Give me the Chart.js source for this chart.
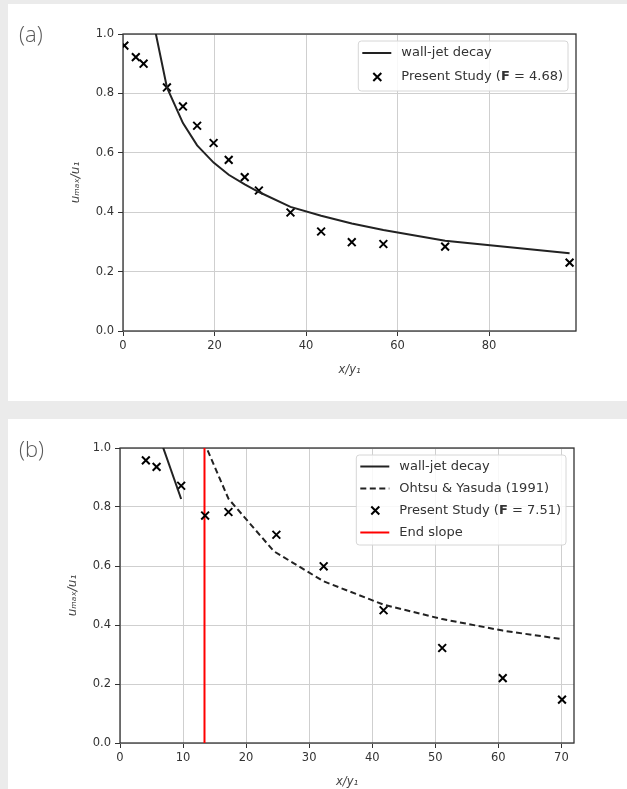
<!DOCTYPE html>
<html>
<head>
<meta charset="utf-8">
<script src="https://cdn.jsdelivr.net/npm/chart.js@4"></script>
<style>
  body { margin: 0; background: #ebebeb; width: 627px; height: 789px; position: relative; overflow: hidden; }
  .panel { position: absolute; left: 8px; width: 619px; background: #fff; }
  #pa { top: 4px; height: 397px; }
  #pb { top: 419px; height: 370px; }
  .tag { position: absolute; left: 11px; top: 14px; font-family: "Open Sans"; font-weight: 300; font-size: 22px; color: #5a5a5a; transform: translateZ(0); }
  canvas { position: absolute; left: 0; top: 0; }
</style>
</head>
<body>
<div class="panel" id="pa"><div class="tag">(a)</div><canvas id="chart_a" width="619" height="397"></canvas></div>
<div class="panel" id="pb"><div class="tag">(b)</div><canvas id="chart_b" width="619" height="370"></canvas></div>
<script>
// (a) F = 4.68
const xA = [0.3, 2.8, 4.5, 9.6, 13.1, 16.2, 19.8, 23.1, 26.6, 29.7, 36.6, 43.3, 50.0, 56.9, 70.4, 97.6];
const yA = [0.961, 0.922, 0.900, 0.820, 0.756, 0.691, 0.633, 0.576, 0.518, 0.473, 0.399, 0.335, 0.299, 0.293, 0.284, 0.230];
const wallXA = [4.5, 9.6, 13.1, 16.2, 19.8, 23.1, 26.6, 29.7, 36.6, 43.3, 50.0, 56.9, 70.4, 97.6];
const wallYA = [1.20, 0.820, 0.700, 0.625, 0.567, 0.526, 0.494, 0.468, 0.418, 0.388, 0.362, 0.340, 0.304, 0.262];

// (b) F = 7.51
const xB = [4.1, 5.8, 9.7, 13.5, 17.2, 24.8, 32.3, 41.8, 51.1, 60.7, 70.1];
const yB = [0.958, 0.936, 0.872, 0.771, 0.783, 0.706, 0.599, 0.450, 0.322, 0.220, 0.147];
const wallXB = [5.8, 9.7];
const wallYB = [1.065, 0.827];
const ohtsuX = [13.9, 17.2, 24.4, 32.3, 41.8, 51.1, 60.7, 70.1];
const ohtsuY = [0.992, 0.828, 0.650, 0.548, 0.469, 0.420, 0.381, 0.352];
const endSlopeX = 13.4;

const yTicks = [0, 0.2, 0.4, 0.6, 0.8, 1.0];

function pts(xs, ys) {
  return xs.map((x, i) => ({ x: x, y: ys[i] }));
}

// cadre noir autour de la zone de tracé
const frame = {
  id: "frame",
  beforeDatasetsDraw(chart) {
    const { ctx, chartArea: a } = chart;
    ctx.save();
    ctx.strokeStyle = "#333";
    ctx.lineWidth = 1.3;
    ctx.strokeRect(a.left, a.top, a.right - a.left, a.bottom - a.top);
    ctx.restore();
  },
};

// légende dessinée à la main (le F en gras)
const boxLegend = {
  id: "boxLegend",
  afterDraw(chart, args, opts) {
    const { ctx, chartArea: a } = chart;
    const font = opts.size + 'px "DejaVu Sans"';
    const bold = "bold " + font;
    ctx.save();
    let tw = 0;
    opts.items.forEach((it) => {
      let w = 0;
      it.parts.forEach((p) => {
        ctx.font = p.b ? bold : font;
        w += ctx.measureText(p.t).width;
      });
      tw = Math.max(tw, w);
    });
    const w = 43 + tw + 5;
    const h = opts.items.length * opts.rowH + 2;
    const x = a.right - 8 - w;
    const y = a.top + 7;
    ctx.beginPath();
    ctx.roundRect(x, y, w, h, 3);
    ctx.fillStyle = "rgba(255,255,255,0.85)";
    ctx.fill();
    ctx.strokeStyle = "#d6d6d6";
    ctx.lineWidth = 1;
    ctx.stroke();
    opts.items.forEach((it, i) => {
      const cy = y + opts.first + i * opts.rowH;
      ctx.setLineDash([]);
      if (it.kind === "marker") {
        ctx.strokeStyle = "#000";
        ctx.lineWidth = 2;
        ctx.beginPath();
        ctx.moveTo(x + 15, cy - 4);
        ctx.lineTo(x + 23, cy + 4);
        ctx.moveTo(x + 15, cy + 4);
        ctx.lineTo(x + 23, cy - 4);
        ctx.stroke();
      } else {
        ctx.strokeStyle = it.color;
        ctx.lineWidth = 2;
        if (it.kind === "dash") ctx.setLineDash([6, 3.5]);
        ctx.beginPath();
        ctx.moveTo(x + 4, cy);
        ctx.lineTo(x + 33, cy);
        ctx.stroke();
      }
      ctx.setLineDash([]);
      ctx.fillStyle = "#333";
      ctx.textBaseline = "middle";
      let tx = x + 43;
      it.parts.forEach((p) => {
        ctx.font = p.b ? bold : font;
        ctx.fillText(p.t, tx, cy);
        tx += ctx.measureText(p.t).width;
      });
    });
    ctx.restore();
  },
};

function dessinerGrafico(el, datasets, xMax, xStep, pad, legend) {
  return new Chart(el, {
    type: "scatter",
    data: { datasets: datasets },
    options: {
      responsive: false,
      animation: false,
      layout: { padding: pad },
      scales: {
        x: {
          type: "linear",
          min: 0,
          max: xMax,
          border: { display: false },
          grid: { color: "#cfcfcf", lineWidth: 1, tickLength: 5, tickColor: "#333" },
          ticks: { stepSize: xStep, includeBounds: false, padding: 3, color: "#333", font: { size: 11.5 } },
          title: { display: true, text: "x/y₁", color: "#444", font: { size: 11.5, style: "italic" }, padding: { top: 4, bottom: 0 } },
          afterFit: (s) => { s.height = 46; },
        },
        y: {
          type: "linear",
          min: 0,
          max: 1,
          border: { display: false },
          afterBuildTicks: (s) => { s.ticks = yTicks.map((v) => ({ value: v })); },
          grid: { color: "#cfcfcf", lineWidth: 1, tickLength: 5, tickColor: "#333" },
          ticks: { padding: 4, color: "#333", font: { size: 11.5 }, callback: (v) => v.toFixed(1) },
          title: { display: true, text: "uₘₐₓ/u₁", color: "#444", font: { size: 12, style: "italic" }, padding: { top: 0, bottom: 6 } },
          afterFit: (s) => { s.width = 54; },
        },
      },
      plugins: {
        legend: { display: false },
        tooltip: { enabled: false },
        boxLegend: legend,
      },
    },
    plugins: [frame, boxLegend],
  });
}

Chart.defaults.font.family = '"DejaVu Sans"';

const lineStyle = { showLine: true, pointRadius: 0, borderWidth: 2, tension: 0, clip: 0 };
const markStyle = { pointStyle: "crossRot", pointRadius: 5.5, borderWidth: 2, borderColor: "#000", backgroundColor: "#000", clip: 0 };

dessinerGrafico(
  document.getElementById("chart_a"),
  [
    { ...lineStyle, label: "wall-jet decay", data: pts(wallXA, wallYA), borderColor: "#222" },
    { ...markStyle, label: "Present Study (F = 4.68)", data: pts(xA, yA) },
  ],
  99, 20,
  { left: 61, top: 30, right: 51, bottom: 24 },
  {
    size: 13, rowH: 24, first: 12,
    items: [
      { kind: "line", color: "#222", parts: [{ t: "wall-jet decay" }] },
      { kind: "marker", parts: [{ t: "Present Study (" }, { t: "F", b: true }, { t: " = 4.68)" }] },
    ],
  }
);

dessinerGrafico(
  document.getElementById("chart_b"),
  [
    { ...lineStyle, label: "wall-jet decay", data: pts(wallXB, wallYB), borderColor: "#222" },
    { ...lineStyle, label: "Ohtsu & Yasuda (1991)", data: pts(ohtsuX, ohtsuY), borderColor: "#222", borderDash: [6, 3.5] },
    { ...markStyle, label: "Present Study (F = 7.51)", data: pts(xB, yB) },
    { ...lineStyle, label: "End slope", data: pts([endSlopeX, endSlopeX], [0, 1]), borderColor: "#ff0000" },
  ],
  72, 10,
  { left: 58, top: 29, right: 53, bottom: 0 },
  {
    size: 13, rowH: 22, first: 11.5,
    items: [
      { kind: "line", color: "#222", parts: [{ t: "wall-jet decay" }] },
      { kind: "dash", color: "#222", parts: [{ t: "Ohtsu & Yasuda (1991)" }] },
      { kind: "marker", parts: [{ t: "Present Study (" }, { t: "F", b: true }, { t: " = 7.51)" }] },
      { kind: "line", color: "#ff0000", parts: [{ t: "End slope" }] },
    ],
  }
);
</script>
</body>
</html>
